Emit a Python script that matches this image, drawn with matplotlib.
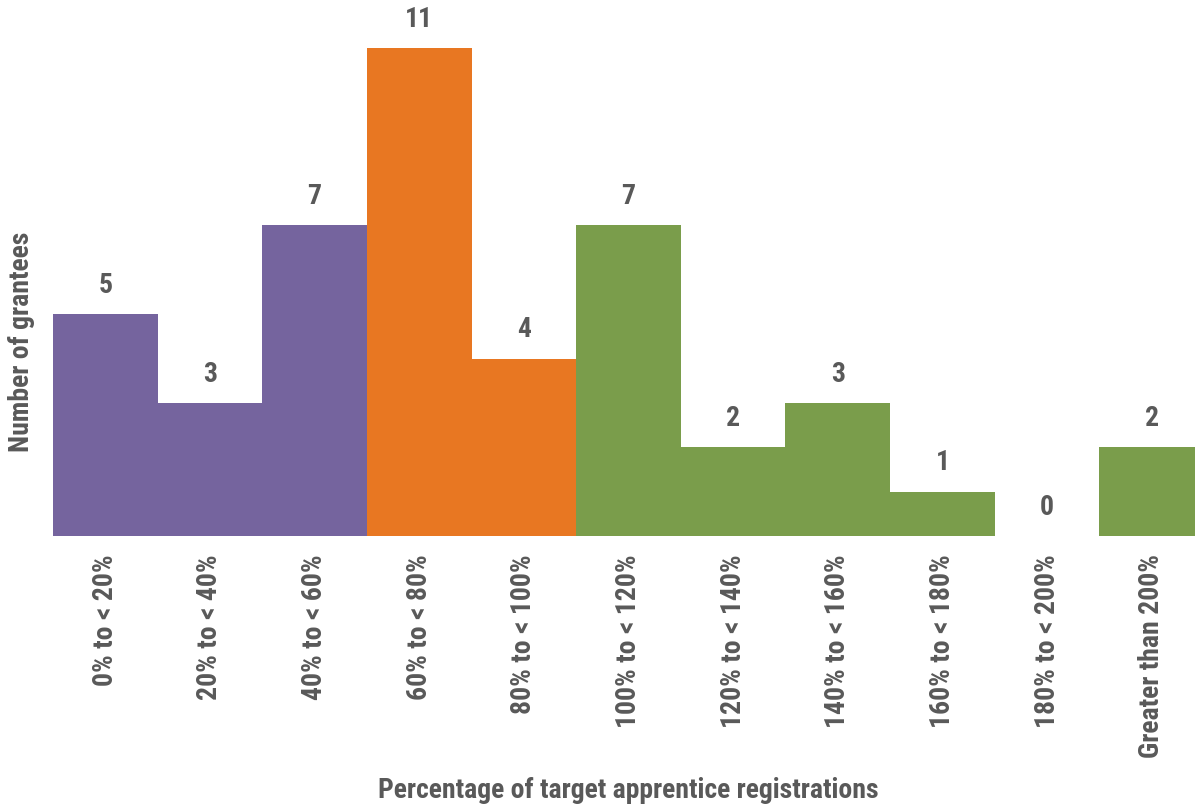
import matplotlib
matplotlib.use("Agg")
import matplotlib.pyplot as plt

categories = ["0% to < 20%", "20% to < 40%", "40% to < 60%", "60% to < 80%",
              "80% to < 100%", "100% to < 120%", "120% to < 140%", "140% to < 160%",
              "160% to < 180%", "180% to < 200%", "Greater than 200%"]
grantees = [5, 3, 7, 11, 4, 7, 2, 3, 1, 0, 2]
groups = ["below", "below", "below", "near", "near",
          "above", "above", "above", "above", "above", "above"]

group_colors = {"below": "#75649E", "near": "#E87722", "above": "#7A9D4B"}

plt.rcParams["font.family"] = ["Roboto Condensed", "DejaVu Sans"]
text_color = "#595959"
fs = 20

fig = plt.figure(figsize=(11.95, 8.08), dpi=100)
ax = fig.add_axes([53 / 1195, 1 - 536 / 808, 1 - 53 / 1195, 536 / 808])

x = list(range(len(categories)))
ax.bar(x, grantees, width=1.0,
       color=[group_colors[g] for g in groups], linewidth=0)

for xi, v in zip(x, grantees):
    ax.annotate(str(v), (xi, v), xytext=(0, 11), textcoords="offset points",
                ha="center", va="bottom", fontsize=fs, fontweight="bold",
                color=text_color)

ax.set_xlim(-0.5, 10.5 - 9 / 104.67)
ax.set_ylim(0, 536 / 44.36)
ax.set_xticks(x)
ax.set_xticklabels(categories, rotation=90, fontsize=fs, fontweight="bold",
                   color=text_color)
ax.tick_params(axis="x", length=0, pad=13)
ax.set_yticks([])
for s in ax.spines.values():
    s.set_visible(False)

fig.text(628 / 1195, 1 - 790 / 808, "Percentage of target apprentice registrations",
         ha="center", va="center", fontsize=fs, fontweight="bold", color=text_color)
fig.text(22 / 1195, 1 - 342 / 808, "Number of grantees", rotation=90,
         ha="center", va="center", fontsize=fs, fontweight="bold", color=text_color)

fig.savefig("out.png", dpi=100)
